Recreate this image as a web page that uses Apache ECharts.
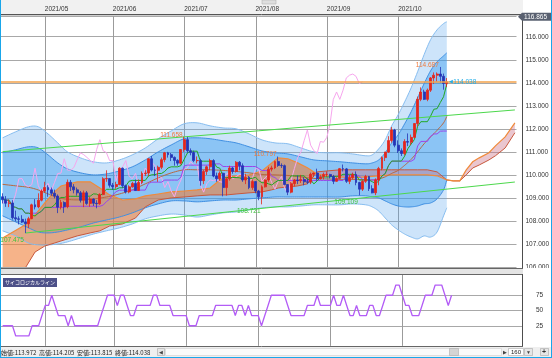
<!DOCTYPE html>
<html><head><meta charset="utf-8"><title>USDJPY daily</title>
<script src="https://cdn.jsdelivr.net/npm/echarts@6.0.0/dist/echarts.min.js"></script>
<style>html,body{margin:0;padding:0;background:#fff;overflow:hidden}#c{width:552px;height:358px}</style>
</head><body><div id="c"></div>
<script>
// ---------- data ----------
const startDay = '2021-04-14';
const slotCount = 159;
const monthLabels = ['2021/05','2021/06','2021/07','2021/08','2021/09','2021/10'];

const opens = [109.05,108.92,108.77,108.78,108.14,108.09,108.07,107.95,107.88,108.10,
108.70,108.61,108.90,109.30,109.45,109.35,109.20,109.08,108.60,108.80,
108.62,109.68,109.48,109.35,109.22,108.90,109.22,108.76,108.95,108.77,
108.75,109.15,109.83,109.84,109.55,109.49,109.58,110.29,109.53,109.26,
109.48,109.63,109.32,109.67,110.06,110.08,110.70,110.21,110.20,110.33,
110.66,110.96,110.88,110.76,110.63,110.51,111.10,111.53,111.05,110.97,
110.62,110.62,109.75,110.15,110.35,110.62,109.95,109.83,110.07,109.45,
109.83,110.30,110.15,110.55,110.40,109.78,109.90,109.45,109.71,109.30,
109.05,109.48,109.78,110.25,110.30,110.58,110.41,110.40,109.58,109.25,
109.62,109.78,109.75,109.80,109.70,109.68,110.03,110.08,109.83,109.92,
110.02,110.02,109.93,109.72,109.84,110.27,110.26,109.72,109.88,110.02,
109.67,109.38,109.72,109.93,109.40,109.22,109.78,110.28,110.75,110.99,
111.49,111.95,111.29,111.05,110.93,111.45,111.42,111.63,112.23,113.28,
113.60,113.28,113.68,114.21,114.33,114.38,114.28,113.972];
const closes = [108.92,108.77,108.78,108.14,108.09,108.07,107.95,107.88,108.10,108.70,
108.61,108.90,109.30,109.45,109.35,109.20,109.08,108.60,108.80,108.62,
109.68,109.48,109.35,109.22,108.90,109.22,108.76,108.95,108.77,108.75,
109.15,109.83,109.84,109.55,109.49,109.58,110.29,109.53,109.26,109.48,
109.63,109.32,109.67,110.06,110.08,110.70,110.21,110.20,110.33,110.66,
110.96,110.88,110.76,110.63,110.51,111.10,111.53,111.05,110.97,110.62,
110.62,109.75,110.15,110.35,110.62,109.95,109.83,110.07,109.45,109.83,
110.30,110.15,110.55,110.40,109.78,109.90,109.45,109.71,109.30,109.05,
109.48,109.78,110.25,110.30,110.58,110.41,110.40,109.58,109.25,109.62,
109.78,109.75,109.80,109.70,109.68,110.03,110.08,109.83,109.92,110.02,
110.02,109.93,109.72,109.84,110.27,110.26,109.72,109.88,110.02,109.67,
109.38,109.72,109.93,109.40,109.22,109.78,110.28,110.75,110.99,111.49,
111.95,111.29,111.05,110.93,111.45,111.42,111.63,112.23,113.28,113.60,
113.28,113.68,114.21,114.33,114.38,114.28,113.97,114.038];
const highs = [109.20,109.08,108.93,108.90,108.45,108.20,108.25,108.10,108.18,108.75,
108.95,109.20,109.37,109.70,109.55,109.45,109.36,109.15,108.92,108.85,
109.80,109.78,109.60,109.45,109.30,109.32,109.30,109.04,108.98,108.90,
109.20,109.90,110.20,109.85,109.65,109.70,110.33,110.32,109.58,109.55,
109.70,109.80,109.80,110.15,110.20,110.72,110.82,110.35,110.40,110.75,
111.00,111.00,110.95,110.80,110.68,111.11,111.658,111.65,111.15,111.05,
110.80,110.70,110.22,110.40,110.70,110.68,110.10,110.15,110.10,109.90,
110.40,110.35,110.60,110.60,110.50,110.05,109.95,109.80,109.72,109.35,
109.55,109.80,110.35,110.40,110.62,110.797,110.50,110.45,109.60,109.70,
109.82,109.98,110.00,109.90,109.85,110.10,110.10,110.27,110.00,110.10,
110.15,110.05,110.00,109.90,110.30,110.45,110.30,110.00,110.10,110.15,
109.70,109.80,110.00,109.95,109.55,109.85,110.35,110.80,111.00,111.68,
112.08,112.00,111.50,111.15,111.55,111.80,111.75,112.25,113.40,113.80,
113.70,113.75,114.25,114.45,114.45,114.687,114.40,114.205];
const lows = [108.76,108.61,108.60,108.06,107.98,107.85,107.91,107.475,107.69,108.08,
108.50,108.55,108.85,109.22,109.05,109.10,108.98,108.34,108.50,108.35,
108.55,109.30,109.20,109.10,108.80,108.60,108.70,108.62,108.65,108.55,
108.70,109.12,109.70,109.45,109.35,109.40,109.55,109.43,109.19,109.20,
109.45,109.30,109.30,109.60,109.95,109.95,110.15,109.95,109.70,110.25,
110.55,110.75,110.60,110.40,110.40,110.45,111.00,110.95,110.85,110.55,
110.50,109.53,109.60,110.00,110.20,109.90,109.70,109.75,109.07,109.10,
109.75,110.05,110.10,110.20,109.70,109.60,109.38,109.35,109.20,108.90,
108.721,109.45,109.70,110.15,110.25,110.35,110.30,109.55,109.12,109.20,
109.50,109.60,109.65,109.55,109.60,109.60,109.90,109.75,109.80,109.80,
109.90,109.85,109.60,109.70,109.80,110.15,109.65,109.60,109.80,109.55,
109.109,109.30,109.65,109.30,109.20,109.12,109.55,110.20,110.60,110.95,
111.40,111.20,110.95,110.82,110.85,111.25,111.30,111.60,112.10,113.20,
113.25,113.20,113.60,113.95,114.05,114.00,113.70,113.815];

// Bollinger band edges (read at sample bars)
const bbX  = [0,4,8,11,14,17,20,24,28,32,36,40,44,48,52,56,60,64,68,72,76,80,84,88,92,96,100,104,108,112,114,116,118,120,122,124,126,128,130,132,134,136,137];
const bbOU = [111.61,111.87,112.09,112.09,111.78,111.39,111.00,110.74,110.57,110.52,110.65,110.87,111.17,111.57,111.91,112.22,112.26,112.13,112.04,112.00,111.78,111.52,111.39,111.35,111.17,111.00,110.96,110.96,110.91,110.83,110.87,111.13,111.52,112.13,112.61,113.17,113.78,114.48,115.22,115.87,116.30,116.57,116.65];
const bbIU = [110.96,111.09,111.22,111.17,110.87,110.52,110.26,110.09,110.00,110.04,110.17,110.35,110.65,111.00,111.30,111.57,111.61,111.57,111.48,111.39,111.22,111.04,110.96,110.91,110.78,110.65,110.61,110.57,110.52,110.48,110.52,110.65,110.96,111.39,111.74,112.22,112.74,113.35,113.96,114.52,114.91,115.17,115.30];
const bbIL = [108.22,107.96,107.70,107.52,107.48,107.52,107.61,107.74,107.91,108.04,108.17,108.35,108.57,108.74,108.87,108.87,108.83,108.87,108.91,108.91,108.96,109.00,109.04,109.04,109.04,109.04,109.04,109.04,109.09,109.09,109.04,109.00,108.87,108.74,108.65,108.61,108.61,108.65,108.74,108.78,108.96,109.35,109.78];
const bbOL = [107.57,107.35,107.04,106.96,106.96,107.00,107.09,107.26,107.43,107.57,107.70,107.87,108.09,108.22,108.30,108.26,108.17,108.26,108.35,108.39,108.48,108.57,108.61,108.61,108.65,108.70,108.70,108.70,108.74,108.70,108.61,108.43,108.13,107.83,107.61,107.43,107.30,107.22,107.35,107.30,107.52,108.22,108.57];

// Ichimoku cloud spans (read at sample bars, including the forward-shifted part)
const cloudX = [0,7,10,13,16,18,23,27,30,33,37,41,44,48,52,56,60,64,67,69,72,76,80,83,85,88,91,94,97,100,104,108,112,116,120,124,128,131,134,137,139,141,143,145,147,150,152,155,158];
const spanA = [107.26,107.83,108.26,108.78,109.26,109.52,109.70,109.70,109.43,109.13,108.91,108.96,109.09,109.17,109.26,109.30,109.35,109.43,109.78,109.91,109.96,110.00,110.17,110.52,110.74,110.70,110.52,110.31,110.04,109.96,109.91,109.87,109.91,109.96,110.00,110.00,110.00,110.00,109.96,109.78,109.74,109.74,110.22,110.57,110.74,110.96,111.26,111.65,112.26];
const spanB = [105.43,105.96,106.65,106.91,107.04,107.13,107.35,107.48,107.57,107.78,107.87,108.13,108.61,108.91,109.00,109.04,109.09,109.13,109.13,109.13,109.17,109.22,109.26,109.35,109.43,109.48,109.52,109.61,110.13,110.17,110.22,110.22,110.22,110.22,110.22,110.22,110.22,110.22,110.13,109.78,109.74,109.74,110.00,110.30,110.43,110.65,110.83,111.17,111.83];

// trend lines
const trendUpperX = [0,158],  trendUpperY = [111.01,112.82];
const trendLowerX = [7,158],  trendLowerY = [107.475,109.69];

// high / low annotations (bar index, kind)
const markBars = [7,56,80,85,110,135];
const markKinds = ['low','high','low','high','low','high'];
const axisTopValue = 116.865;

// psychological line (subplot)
const psy = [25,25,25,25,8.3,8.3,8.3,8.3,8.3,25,
25,25,41.7,58.3,58.3,75,58.3,41.7,41.7,41.7,
25,41.7,25,25,25,25,25,25,25,25,
41.7,58.3,75,75,75,58.3,75,75,58.3,41.7,
41.7,58.3,58.3,58.3,58.3,58.3,75,75,58.3,58.3,
58.3,58.3,41.7,41.7,41.7,41.7,41.7,25,25,25,
41.7,41.7,41.7,41.7,41.7,58.3,58.3,58.3,58.3,58.3,
58.3,41.7,58.3,58.3,41.7,58.3,41.7,41.7,41.7,25,
41.7,58.3,75,75,75,75,75,58.3,41.7,41.7,
41.7,41.7,41.7,58.3,58.3,58.3,75,58.3,58.3,58.3,
58.3,75,58.3,58.3,75,58.3,41.7,41.7,58.3,41.7,
41.7,41.7,58.3,58.3,41.7,41.7,58.3,75,75,75,
91.7,91.7,75,58.3,58.3,41.7,41.7,41.7,58.3,75,
75,75,91.7,91.7,91.7,75,58.3,75];

// ---------- derived structures ----------
const dates = [];
(function(){
  const d = new Date(startDay + 'T00:00:00Z');
  while (dates.length < slotCount) {
    const wd = d.getUTCDay();
    if (wd !== 0 && wd !== 6) {
      dates.push(d.getUTCFullYear() + '/' + String(d.getUTCMonth()+1).padStart(2,'0') + '/' + String(d.getUTCDate()).padStart(2,'0'));
    }
    d.setUTCDate(d.getUTCDate()+1);
  }
})();
const monthIdx = monthLabels.map(m => dates.findIndex(d => d.startsWith(m)));
const candle = opens.map((o,i) => [o, closes[i], lows[i], highs[i]]);
function midline(n){
  return highs.map((_, i) => {
    let h = -Infinity, l = Infinity;
    for (let k = Math.max(0, i-n+1); k <= i; k++){ h = Math.max(h, highs[k]); l = Math.min(l, lows[k]); }
    return +((h+l)/2).toFixed(3);
  });
}
const tenkan = midline(9);
const kijun = midline(26);
const chikou = closes.slice(26);
const bbMid = bbIU.map((v,i) => +((v + bbIL[i]) / 2).toFixed(3));
const last = closes.length - 1;

// ---------- drawing helpers ----------
const FONT = '"Liberation Sans", Arial, sans-serif';
const JFONT = '"Noto Sans CJK JP", sans-serif';

function catmull(p, seg){
  if (p.length < 3) return p;
  const out = [];
  for (let i = 0; i < p.length-1; i++){
    const p0 = p[Math.max(i-1,0)], p1 = p[i], p2 = p[i+1], p3 = p[Math.min(i+2,p.length-1)];
    for (let t = 0; t < seg; t++){
      const s = t/seg, s2 = s*s, s3 = s2*s;
      const f = k => 0.5*((2*p1[k]) + (-p0[k]+p2[k])*s + (2*p0[k]-5*p1[k]+4*p2[k]-p3[k])*s2 + (-p0[k]+3*p1[k]-3*p2[k]+p3[k])*s3);
      out.push([f(0), f(1)]);
    }
  }
  out.push(p[p.length-1]);
  return out;
}
function bandFill(xs, up, lo, fill, z){
  return {type:'custom', xAxisIndex:0, yAxisIndex:0, z, clip:true, silent:true, data:[[0,110]],
    renderItem(params, api){
      const U = catmull(xs.map((x,i)=>api.coord([x, up[i]])), 6);
      const L = catmull(xs.map((x,i)=>api.coord([x, lo[i]])), 6);
      return {type:'polygon', shape:{points: U.concat(L.slice().reverse())}, style:{fill}};
    }};
}
function curve(xs, ys, color, width, smooth, z){
  return {type:'custom', xAxisIndex:0, yAxisIndex:0, z, clip:true, silent:true, data:[[0,110]],
    renderItem(params, api){
      let pts = xs.map((x,i)=>api.coord([x, ys[i]]));
      if (smooth) pts = catmull(pts, 6);
      return {type:'polyline', shape:{points: pts}, style:{stroke: color, lineWidth: width, fill: null}};
    }};
}
function cloudFill(z){
  return {type:'custom', xAxisIndex:0, yAxisIndex:0, z, clip:true, silent:true, data:[[0,110]],
    renderItem(params, api){
      const A = cloudX.map((x,i)=>api.coord([x, spanA[i]]));
      const B = cloudX.map((x,i)=>api.coord([x, spanB[i]]));
      const pieces = [];
      let ca = [A[0]], cb = [B[0]];
      let sg = Math.sign(B[0][1]-A[0][1]) || 1;
      for (let i = 0; i < A.length-1; i++){
        const d0 = B[i][1]-A[i][1], d1 = B[i+1][1]-A[i+1][1];
        if (d0*d1 < 0){
          const t = d0/(d0-d1);
          const P = [A[i][0]+(A[i+1][0]-A[i][0])*t, A[i][1]+(A[i+1][1]-A[i][1])*t];
          ca.push(P); cb.push(P); pieces.push({a:ca, b:cb, s:sg});
          ca = [P]; cb = [P]; sg = -sg;
        }
        ca.push(A[i+1]); cb.push(B[i+1]);
      }
      pieces.push({a:ca, b:cb, s:sg});
      return {type:'group', children: pieces.map(p => ({type:'polygon',
        shape:{points: p.a.concat(p.b.slice().reverse())},
        style:{fill: p.s > 0 ? 'rgba(240,128,58,0.6)' : 'rgba(205,120,140,0.42)'}}))};
    }};
}
function monthLines(xAxisIndex, yAxisIndex, yTop, yBot){
  return {type:'custom', xAxisIndex, yAxisIndex, z:1, silent:true,
    data: monthIdx.map(i => [i, yTop]),
    renderItem(params, api){
      const i = api.value(0);
      const p1 = api.coord([i, yTop]), p2 = api.coord([i, yBot]);
      const x = Math.round(p1[0]) + 0.5;
      return {type:'line', shape:{x1:x, y1:p1[1], x2:x, y2:p2[1]}, style:{stroke:'#9b9b9b', lineWidth:1}};
    }};
}

const markData = markBars.map((b,k) => {
  const hi = markKinds[k] === 'high';
  const v = hi ? highs[b] : lows[b];
  return {coord:[dates[b], v], value: v.toFixed(3),
    label:{show:true, position:'left', distance:1, formatter:'{c}', fontSize:6.5, fontFamily:FONT,
      color: hi ? '#f07a3c' : '#3cc23c', offset:[0, hi ? -2 : 7]}};
});
markData.push({coord:[dates[last], closes[last]], value: closes[last].toFixed(3),
  label:{show:true, position:'right', distance:2, fontSize:6.5, fontFamily:FONT, color:'#22aee8',
    formatter: p => '{a|◀}' + p.value, rich:{a:{fontSize:5, color:'#22aee8'}}}});

const chart = echarts.init(document.getElementById('c'));
chart.setOption({
  animation:false,
  backgroundColor:'#ffffff',
  textStyle:{fontFamily:FONT},
  grid:[{left:1, top:16, width:521, height:251}, {left:1, top:280, width:521, height:61}],
  xAxis:[
    {type:'category', gridIndex:0, data:dates, boundaryGap:true, position:'top',
     axisLine:{show:false}, axisTick:{show:false}, splitLine:{show:false},
     axisLabel:{interval:(i)=>monthIdx.includes(i), formatter:(v)=>v.slice(0,7), align:'left', margin:3, fontSize:6.5, color:'#333'}},
    {type:'category', gridIndex:1, data:dates, boundaryGap:true, show:false}
  ],
  yAxis:[
    {type:'value', gridIndex:0, position:'right', min:106, max:116.9, interval:1,
     axisLine:{show:false}, axisTick:{show:false},
     splitLine:{show:true, lineStyle:{color:'#a8a8a8', width:1}},
     axisLabel:{formatter:v=>v.toFixed(3), fontSize:6.5, color:'#333', margin:9, showMaxLabel:false}},
    {type:'value', gridIndex:1, position:'right', min:0, max:100, interval:25,
     axisLine:{show:false}, axisTick:{show:false},
     splitLine:{show:true, showMinLine:false, showMaxLine:false, lineStyle:{color:'#a8a8a8', width:1}},
     axisLabel:{fontSize:6.5, color:'#333', margin:14, showMinLabel:false, showMaxLabel:false}}
  ],
  series:[
    monthLines(0, 0, 116.9, 106),
    monthLines(1, 1, 109.9, -8),
    bandFill(bbX, bbOU, bbOL, 'rgba(90,165,240,0.30)', 1),
    bandFill(bbX, bbIU, bbIL, 'rgba(40,148,238,0.40)', 1),
    cloudFill(1),
    curve(bbX, bbOU, '#86bdf0', 1, true, 2),
    curve(bbX, bbOL, '#86bdf0', 1, true, 2),
    curve(bbX, bbIU, '#3f8fe2', 1, true, 2),
    curve(bbX, bbIL, '#3f8fe2', 1, true, 2),
    curve(cloudX, spanB, '#c8583c', 1, false, 2),
    curve(cloudX, spanA, '#f08a3a', 1.2, false, 2),
    curve(bbX, bbMid, '#b8673f', 1, true, 2),
    {type:'line', xAxisIndex:0, yAxisIndex:0, z:2, data:chikou, symbol:'none', silent:true,
     lineStyle:{color:'#f7a6ee', width:1}},
    {type:'line', xAxisIndex:0, yAxisIndex:0, z:2, data:kijun, symbol:'none', silent:true,
     lineStyle:{color:'#9a46ea', width:1}},
    {type:'line', xAxisIndex:0, yAxisIndex:0, z:2, data:tenkan, symbol:'none', silent:true,
     lineStyle:{color:'#22a822', width:1}},
    {type:'line', xAxisIndex:0, yAxisIndex:0, z:2, data:trendUpperX.map((x,i)=>[x, trendUpperY[i]]), symbol:'none', silent:true,
     lineStyle:{color:'#4cd84c', width:1}},
    {type:'line', xAxisIndex:0, yAxisIndex:0, z:2, data:trendLowerX.map((x,i)=>[x, trendLowerY[i]]), symbol:'none', silent:true,
     lineStyle:{color:'#4cd84c', width:1}},
    {type:'candlestick', xAxisIndex:0, yAxisIndex:0, z:3, barWidth:2.4, data:candle, silent:true, clip:false,
     itemStyle:{color:'#e3261c', color0:'#2535b6', borderColor:'#e3261c', borderColor0:'#2535b6', borderWidth:0.8},
     markLine:{silent:true, symbol:['none','none'], animation:false, data:[
       {yAxis:closes[last], lineStyle:{color:'#f3a24a', width:1.5, type:'solid'}, label:{show:false}}
     ]},
     markPoint:{symbol:'circle', symbolSize:1, silent:true, animation:false, itemStyle:{color:'rgba(0,0,0,0)'}, data:markData}},
    {type:'line', xAxisIndex:1, yAxisIndex:1, z:2, data:psy, symbol:'none', silent:true,
     lineStyle:{color:'#b35cf6', width:1.3}}
  ]
});

// top-of-axis value tag, positioned through the y axis scale
const tagY = chart.convertToPixel({yAxisIndex:0}, axisTopValue);

chart.setOption({
  graphic:{elements:[
    {type:'rect', z:-10, silent:true, shape:{x:0, y:0, width:523, height:15}, style:{fill:'#f1f1f1'}},
    {type:'rect', z:10, silent:true, shape:{x:262, y:0, width:14, height:4}, style:{fill:'#dedede', stroke:'#a8a8a8', lineWidth:0.5}},
    {type:'line', z:10, silent:true, shape:{x1:0, y1:14.5, x2:523, y2:14.5}, style:{stroke:'#555', lineWidth:1}},
    {type:'line', z:10, silent:true, shape:{x1:0, y1:15.5, x2:523, y2:15.5}, style:{stroke:'#cfcfcf', lineWidth:1}},
    {type:'line', z:10, silent:true, shape:{x1:522.5, y1:14, x2:522.5, y2:268}, style:{stroke:'#4d4d4d', lineWidth:1}},
    {type:'polygon', z:15, silent:true, shape:{points:[[518,tagY],[522,tagY-4],[551,tagY-4],[551,tagY+4],[522,tagY+4]]}, style:{fill:'#596070'}},
    {type:'text', z:16, silent:true, x:524, y:tagY, style:{text:axisTopValue.toFixed(3), font:'6.5px ' + FONT, fill:'#ffffff', verticalAlign:'middle'}},
    {type:'rect', z:10, silent:true, shape:{x:0, y:268, width:523, height:6}, style:{fill:'#e4e4e4'}},
    {type:'rect', z:10, silent:true, shape:{x:523, y:268, width:29, height:6}, style:{fill:'#ffffff'}},
    {type:'line', z:10, silent:true, shape:{x1:0, y1:268.5, x2:523, y2:268.5}, style:{stroke:'#666', lineWidth:1}},
    {type:'line', z:10, silent:true, shape:{x1:0, y1:274.5, x2:523, y2:274.5}, style:{stroke:'#666', lineWidth:1}},
    {type:'line', z:10, silent:true, shape:{x1:522.5, y1:274, x2:522.5, y2:347}, style:{stroke:'#4d4d4d', lineWidth:1}},
    {type:'line', z:10, silent:true, shape:{x1:0, y1:346.5, x2:523, y2:346.5}, style:{stroke:'#666', lineWidth:1}},
    {type:'text', z:10, silent:true, x:3, y:278, style:{text:'サイコロジカルライン', font:'5px ' + JFONT, fill:'#ffffff',
      backgroundColor:'#4d5088', padding:[2,2,2,2]}},
    {type:'rect', z:10, silent:true, shape:{x:0, y:347, width:552, height:11}, style:{fill:'#efefef'}},
    {type:'text', z:11, silent:true, x:1, y:352.5, style:{
      text:'始値:' + opens[last].toFixed(3) + '  高値:' + highs[last].toFixed(3) + '  安値:' + lows[last].toFixed(3) + '  終値:' + closes[last].toFixed(3),
      font:'6px ' + JFONT, fill:'#222', verticalAlign:'middle'}},
    {type:'rect', z:11, silent:true, shape:{x:157.5, y:348.5, width:7, height:7}, style:{fill:'#e6e6e6', stroke:'#9a9a9a', lineWidth:0.5}},
    {type:'text', z:12, silent:true, x:158.5, y:352.5, style:{text:'◀', font:'5px ' + FONT, fill:'#444', verticalAlign:'middle'}},
    {type:'rect', z:11, silent:true, shape:{x:165.5, y:348.5, width:336, height:7}, style:{fill:'#fafafa', stroke:'#c8c8c8', lineWidth:0.5}},
    {type:'rect', z:12, silent:true, shape:{x:449.5, y:348.5, width:9, height:7}, style:{fill:'#d4d4d4', stroke:'#a0a0a0', lineWidth:0.5}},
    {type:'text', z:12, silent:true, x:502.5, y:352.5, style:{text:'▶', font:'5px ' + FONT, fill:'#444', verticalAlign:'middle'}},
    {type:'rect', z:11, silent:true, shape:{x:508.5, y:348.5, width:15, height:7}, style:{fill:'#ffffff', stroke:'#9a9a9a', lineWidth:0.5}},
    {type:'text', z:12, silent:true, x:511, y:352.5, style:{text:'160', font:'6px ' + FONT, fill:'#222', verticalAlign:'middle'}},
    {type:'rect', z:11, silent:true, shape:{x:524.5, y:348.5, width:8, height:7}, style:{fill:'#e6e6e6', stroke:'#9a9a9a', lineWidth:0.5}},
    {type:'text', z:12, silent:true, x:526, y:352.5, style:{text:'▼', font:'5px ' + FONT, fill:'#444', verticalAlign:'middle'}},
    {type:'rect', z:11, silent:true, shape:{x:540.5, y:348.5, width:8, height:7}, style:{fill:'#e6e6e6', stroke:'#9a9a9a', lineWidth:0.5}},
    {type:'text', z:12, silent:true, x:542, y:352.5, style:{text:'+', font:'bold 7px ' + FONT, fill:'#333', verticalAlign:'middle'}},
    {type:'line', z:20, silent:true, shape:{x1:0.5, y1:0, x2:0.5, y2:358}, style:{stroke:'#19a6ea', lineWidth:1}},
    {type:'line', z:20, silent:true, shape:{x1:551.5, y1:0, x2:551.5, y2:358}, style:{stroke:'#19a6ea', lineWidth:1}},
    {type:'line', z:20, silent:true, shape:{x1:0, y1:357.5, x2:552, y2:357.5}, style:{stroke:'#19a6ea', lineWidth:1}}
  ]}
});
</script></body></html>
